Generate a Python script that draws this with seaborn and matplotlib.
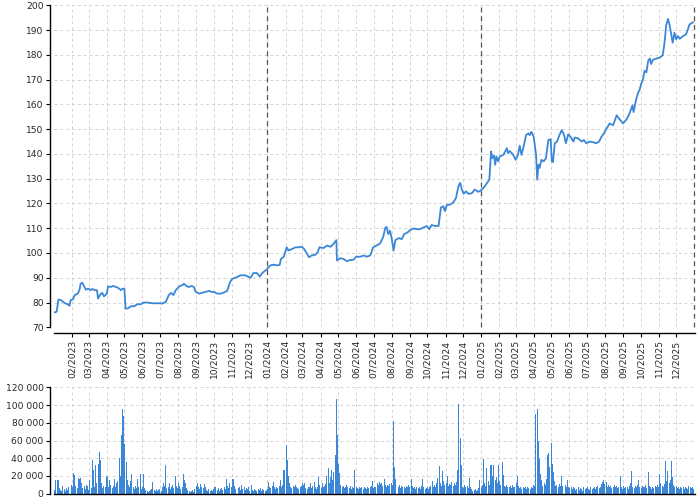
import matplotlib
matplotlib.use("Agg")
import matplotlib.pyplot as plt
import matplotlib.dates as mdates
from matplotlib.ticker import FuncFormatter, MultipleLocator, FixedLocator
import seaborn as sns
import pandas as pd
import numpy as np

sns.set_style("whitegrid")
plt.rcParams['font.family'] = ['DejaVu Sans']

start = pd.Timestamp("2023-01-01")
end = pd.Timestamp("2026-01-01")

# price series: day offset from 2023-01-01 and value
price_day = [0, 4, 7, 11, 15, 19, 23, 26, 28, 32, 35, 40, 43, 45, 48, 50, 54, 58, 63, 65,
             69, 73, 75, 78, 82, 85, 90, 92, 97, 101, 105, 109, 114, 117, 120, 122, 126, 131, 137, 142,
             148, 153, 159, 168, 177, 185, 191, 196, 200, 204, 208, 214, 219, 222, 227, 231, 235, 239, 242, 248,
             253, 259, 265, 269, 273, 279, 285, 290, 296, 301, 305, 310,
             319, 327, 336, 341, 347, 352, 356, 363, 370, 376, 381, 386, 388, 393, 396, 398, 401, 407,
             413, 418, 424, 428, 433, 436, 441, 447, 451, 454, 461, 467, 473, 478, 483, 484, 490, 495,
             501, 507, 512, 517, 524, 530, 535, 541, 546, 552, 558, 563, 567, 569, 572, 575, 578, 581,
             584, 590, 595, 599, 605, 609, 615, 621, 626, 632, 638, 642, 646, 652, 658, 662, 666, 669,
             672, 678, 683, 688, 692, 695, 698, 701, 705, 709,
             715, 720, 726, 730, 735, 740, 745, 748, 750, 753, 755, 757, 760, 763, 769, 775, 777, 780,
             786, 790, 794, 797, 800, 803, 808, 812, 814, 817, 821, 825, 827, 829, 831, 834, 838, 842,
             846, 850, 852, 854, 857, 861, 865, 869, 873, 876, 880, 884, 889, 891, 897, 903, 907, 911,
             917, 923, 928, 933, 937, 941, 946, 951, 957, 963, 968, 974, 980, 985, 990, 992, 996, 1000,
             1002, 1005, 1008, 1011, 1014, 1017, 1020, 1022, 1025, 1031, 1037, 1042, 1045, 1048, 1051,
             1054, 1057, 1059, 1062, 1065, 1068, 1071, 1077, 1082, 1085, 1088, 1092, 1094]
price = [76.0, 76.3, 81.2, 81.0, 80.3, 79.6, 79.3, 78.7, 81.0, 81.3, 83.0, 83.6, 85.0, 87.6, 88.0, 87.0, 85.2, 85.6, 85.0, 85.5,
         85.0, 85.0, 81.6, 83.0, 83.9, 82.5, 83.6, 86.5, 86.3, 86.7, 86.3, 86.0, 85.0, 85.6, 85.6, 77.6, 77.6, 78.5, 78.5, 79.3,
         79.3, 80.0, 80.0, 79.7, 79.7, 79.6, 80.3, 83.0, 83.9, 83.0, 85.0, 86.5, 87.0, 87.6, 86.5, 86.3, 86.7, 86.3, 84.3, 83.6,
         83.9, 84.3, 84.7, 84.3, 84.3, 83.6, 83.6, 84.0, 84.7, 88.3, 89.6, 90.0,
         91.0, 91.0, 90.0, 91.9, 91.9, 90.5, 91.9, 93.2, 95.0, 95.3, 95.0, 95.2, 97.6, 98.5, 100.7, 102.3, 101.0, 101.6,
         102.3, 102.3, 102.5, 101.6, 99.6, 98.3, 99.0, 99.3, 100.3, 102.3, 102.0, 103.0, 102.5, 103.6, 105.2, 97.0, 97.9, 97.6,
         96.7, 97.2, 97.2, 98.5, 98.5, 99.0, 98.5, 99.0, 102.3, 103.0, 103.9, 106.3, 110.3, 110.5, 107.6, 109.0, 105.6, 101.0,
         105.2, 106.0, 105.6, 107.6, 108.3, 109.2, 109.9, 109.6, 109.6, 110.3, 110.9, 109.6, 111.3, 110.9, 110.9, 118.3, 118.9, 116.9,
         119.3, 119.6, 120.3, 122.3, 126.9, 128.3, 125.6, 123.9, 124.9, 123.9,
         124.1, 125.6, 124.7, 125.2, 126.3, 127.9, 129.6, 141.0, 138.3, 139.3, 135.6, 139.0, 137.0, 139.0, 139.6, 142.3, 140.3, 141.2,
         139.6, 137.6, 139.6, 143.3, 139.6, 142.3, 147.6, 148.3, 147.6, 148.9, 146.9, 139.6, 129.6, 135.6, 134.3, 137.6, 137.0, 138.3,
         145.6, 145.9, 137.0, 136.7, 144.3, 145.0, 147.6, 149.6, 147.6, 144.3, 147.9, 146.9, 145.0, 146.6, 146.3, 145.0, 145.6, 144.3,
         145.0, 144.7, 144.3, 145.0, 146.9, 148.3, 150.3, 152.3, 151.6, 155.6, 154.0, 152.3, 154.0, 156.3, 159.6, 156.9, 161.6, 164.9,
         165.6, 168.3, 170.0, 173.6, 172.9, 177.6, 178.5, 176.3, 178.0, 178.5, 178.9, 179.9, 184.9, 192.3, 194.5,
         191.6, 187.6, 184.9, 188.9, 186.3, 187.6, 186.5, 187.6, 188.3, 190.3, 192.3, 192.9, 193.2]

# volume, one bar per two days, in thousands
vol_day = list(range(0, 1095, 2))
vol_k = [4, 15, 16, 15, 6, 4, 3, 9, 5, 3, 6, 4, 7, 5, 10,
         8, 23, 21, 9, 6, 18, 17, 18, 12, 6, 9, 5, 10, 9, 4,
         15, 6, 38, 27, 8, 32, 12, 33, 47, 38, 12, 6, 9, 7, 20,
         19, 8, 15, 10, 6, 9, 17, 8, 12, 14, 40, 20, 66, 95, 88,
         56, 36, 16, 10, 7, 14, 22, 8, 5, 9, 6, 17, 7, 22, 5,
         8, 22, 6, 4, 3, 2, 3, 4, 5, 13, 4, 3, 5, 3, 4,
         5, 3, 7, 12, 9, 32, 6, 8, 12, 5, 7, 10, 6, 20, 9,
         6, 12, 9, 5, 8, 22, 15, 12, 6, 4, 3, 2, 3, 4, 2,
         5, 9, 12, 7, 5, 11, 8, 6, 11, 7, 4, 3, 5, 3, 4,
         3, 5, 7, 8, 4, 6, 3, 5, 6, 4, 7, 5, 17, 9, 6,
         12, 8, 17, 17, 9, 5, 6, 6, 8, 4, 10, 5, 7, 4, 6,
         5, 8, 3, 10, 4, 3, 5, 4, 3, 5, 4, 6, 3, 5, 4,
         3, 4, 5, 13, 8, 6, 9, 13, 7, 5, 8, 6, 9, 16, 8,
         10, 27, 27, 55, 38, 20, 12, 8, 6, 9, 7, 10, 8, 6, 5,
         7, 9, 12, 10, 12, 6, 5, 8, 7, 12, 6, 9, 13, 7, 5,
         8, 19, 10, 6, 12, 7, 9, 11, 20, 29, 12, 19, 27, 15, 24,
         44, 107, 66, 33, 23, 10, 7, 9, 6, 8, 10, 7, 6, 9, 5,
         7, 6, 27, 8, 6, 5, 7, 6, 8, 5, 7, 6, 5, 8, 6,
         7, 9, 14, 6, 8, 7, 12, 10, 13, 11, 12, 9, 17, 10, 8,
         10, 9, 11, 12, 10, 82, 30, 17, 8, 7, 10, 6, 9, 8, 7,
         6, 9, 7, 10, 8, 17, 9, 6, 8, 5, 7, 6, 8, 5, 9,
         17, 7, 5, 6, 8, 5, 7, 9, 14, 8, 10, 7, 12, 18, 31,
         12, 9, 26, 14, 10, 12, 20, 9, 11, 10, 13, 9, 12, 10, 13,
         27, 101, 63, 32, 8, 6, 10, 7, 9, 6, 18, 8, 5, 3, 4,
         5, 3, 4, 6, 16, 7, 10, 39, 12, 9, 29, 14, 10, 32, 32,
         20, 32, 15, 19, 12, 32, 14, 10, 36, 21, 9, 7, 10, 8, 7,
         9, 6, 10, 8, 7, 12, 20, 9, 6, 8, 5, 7, 6, 8, 5,
         7, 6, 5, 8, 6, 10, 9, 90, 96, 60, 39, 22, 15, 9, 12,
         10, 17, 44, 46, 30, 57, 34, 24, 14, 9, 10, 8, 11, 9, 20,
         9, 7, 10, 8, 15, 7, 6, 8, 5, 7, 6, 4, 5, 7, 4,
         6, 5, 3, 7, 5, 6, 8, 5, 4, 7, 5, 6, 8, 5, 7,
         9, 6, 8, 11, 13, 15, 11, 13, 8, 10, 7, 9, 6, 8, 10,
         7, 9, 6, 8, 20, 7, 5, 9, 6, 8, 7, 5, 9, 12, 26,
         8, 6, 9, 7, 10, 16, 8, 6, 9, 7, 8, 10, 6, 25, 9,
         7, 5, 8, 6, 9, 7, 10, 8, 22, 12, 9, 7, 11, 37, 14,
         26, 12, 15, 37, 19, 10, 7, 9, 6, 8, 5, 7, 6, 8, 5,
         7, 6, 5, 9, 7, 6, 8, 5]

year_marks = ["2024-01-01", "2025-01-01", "2026-01-01"]

price_dates = start + pd.to_timedelta(price_day, unit="D")
vol_dates = start + pd.to_timedelta(vol_day, unit="D")
vol = np.array(vol_k) * 1000

blue = "#3a87d8"
grid_kw = dict(color="#d3d3d3", linestyle=(0, (3, 3)), linewidth=0.7)
month_ticks = pd.date_range("2023-02-01", "2025-12-01", freq="MS")

fig = plt.figure(figsize=(7, 5), dpi=100)
ax1 = fig.add_axes([0.0776, 0.3454, 0.9151, 0.644])
ax2 = fig.add_axes([0.0776, 0.0126, 0.9151, 0.2128])

sns.lineplot(x=price_dates, y=price, ax=ax1, color=blue, linewidth=1.3)
ax1.set_ylim(70, 200)
ax1.yaxis.set_major_locator(MultipleLocator(10))
for d in year_marks:
    ax1.axvline(pd.Timestamp(d), color="#555555", linestyle=(0, (4, 3)), linewidth=0.9,
                zorder=3, clip_on=False)

ax2.bar(vol_dates, vol, width=1.7, align="edge", color=blue, linewidth=0)
ax2.set_ylim(0, 120000)
ax2.yaxis.set_major_locator(MultipleLocator(20000))
ax2.yaxis.set_major_formatter(FuncFormatter(lambda v, _: f"{int(v):,}".replace(",", " ")))

for ax in (ax1, ax2):
    ax.set_xlim(start, end + pd.Timedelta(days=1))
    ax.xaxis.set_major_locator(FixedLocator(mdates.date2num(month_ticks)))
    ax.grid(True, **grid_kw)
    ax.set_axisbelow(True)
    for side in ("top", "right"):
        ax.spines[side].set_visible(False)
    for side in ("left", "bottom"):
        ax.spines[side].set_color("black")
        ax.spines[side].set_linewidth(1.0)
    ax.spines["left"].set_position(("outward", 3))
    ax.tick_params(axis="both", labelsize=6.6, length=3.2, width=0.8, color="black", pad=1.5,
                   left=True, bottom=True)
    ax.set_xlabel("")
    ax.set_ylabel("")

ax1.spines["bottom"].set_position(("outward", 4))
ax1.xaxis.set_major_formatter(mdates.DateFormatter("%m/%Y"))
for lbl in ax1.get_xticklabels():
    lbl.set_rotation(90)
ax2.tick_params(axis="x", labelbottom=False, length=0)

fig.savefig("out.png", dpi=100)
